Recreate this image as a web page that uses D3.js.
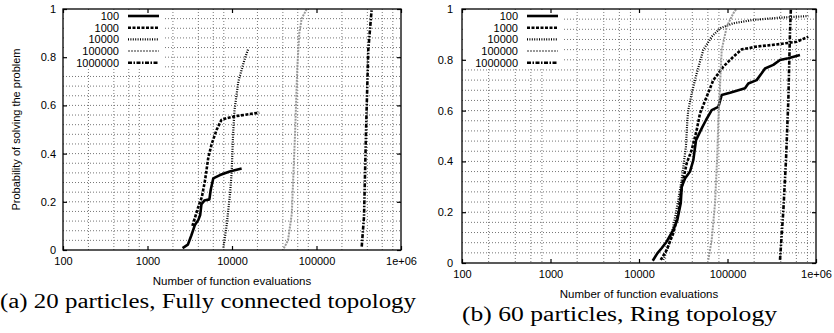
<!DOCTYPE html>
<html>
<head>
<meta charset="utf-8">
<script src="https://cdn.jsdelivr.net/npm/d3@7"></script>
<style>
  body { margin: 0; background: #fff; }
  svg { display: block; }
  .tick text { font-family: "Liberation Sans", Arial, sans-serif; font-size: 11px; fill: #000; }
</style>
</head>
<body>
<div id="chart"></div>
<script>
// tick values / labels shared by both panels
const xTicks = [100, 1000, 10000, 100000, 1000000];
const xTickLabels = ["100", "1000", "10000", "100000", "1e+06"];
const yTicks = [0, 0.2, 0.4, 0.6, 0.8, 1];
const yTickLabels = ["0", "0.2", "0.4", "0.6", "0.8", "1"];
const gridMultipliers = [2, 4, 6, 8];
const gridDecades = [100, 1000, 10000, 100000];
const seriesNames = ["100", "1000", "10000", "100000", "1000000"];

// (a) 20 particles, fully connected: [evaluations, probability]
const a100 = [[2600,0.008],[3000,0.022],[3300,0.06],[3650,0.105],[4000,0.125],[4200,0.145],[4350,0.19],[4700,0.205],[5400,0.21],[5600,0.25],[6000,0.297],[7200,0.311],[9400,0.326],[13000,0.338]];
const a1000 = [[3400,0.1],[4000,0.18],[4400,0.22],[4800,0.29],[5250,0.385],[5750,0.44],[6600,0.5],[7500,0.54],[8600,0.547],[11400,0.556],[21000,0.57]];
const a10000 = [[7900,0.01],[8600,0.097],[9400,0.22],[9900,0.32],[10300,0.48],[10700,0.58],[11900,0.7],[14200,0.795],[15600,0.835]];
const a100000 = [[41000,0.007],[46000,0.04],[51000,0.15],[55700,0.48],[59300,0.76],[62600,0.9],[66800,0.96],[76600,1.0]];
const a1000000 = [[343000,0.014],[365000,0.138],[385000,0.484],[410000,0.83],[450000,1.0]];

// (b) 60 particles, ring
const b100 = [[14300,0.009],[16100,0.038],[18000,0.058],[20500,0.084],[24400,0.13],[27100,0.169],[29600,0.235],[30400,0.3],[33100,0.333],[37700,0.36],[41100,0.405],[44100,0.484],[51100,0.53],[57200,0.563],[66300,0.602],[78800,0.615],[86000,0.661],[106700,0.67],[157700,0.688],[171800,0.707],[213500,0.72],[243200,0.747],[265300,0.766],[329000,0.78],[391500,0.799],[486000,0.806],[659000,0.819]];
const b1000 = [[17600,0.012],[20500,0.051],[24400,0.117],[27800,0.196],[30400,0.3],[34600,0.393],[39400,0.445],[44900,0.524],[48900,0.589],[58200,0.655],[69200,0.72],[89700,0.773],[116300,0.812],[144600,0.841],[213500,0.852],[391000,0.862],[605000,0.871],[818000,0.891]];
const b10000 = [[18800,0.012],[21400,0.064],[24400,0.143],[27800,0.248],[30300,0.327],[33900,0.458],[35200,0.563],[36000,0.6],[39400,0.668],[44900,0.747],[53300,0.839],[66300,0.891],[82300,0.924],[116300,0.944],[196000,0.957],[391000,0.966],[818000,0.972]];
const b100000 = [[60700,0.012],[66300,0.091],[72300,0.235],[76800,0.432],[78800,0.563],[80900,0.642],[86000,0.839],[98000,0.93],[116300,0.983],[126000,1.0]];
const b1000000 = [[392000,0.012],[428000,0.209],[458000,0.405],[487000,0.642],[508000,0.905],[520000,1.0]];

// line styles per series (gnuplot-like)
const styles = [
  { color: "#000", width: 2.6, dash: null },
  { color: "#000", width: 2.6, dash: "3,1.5" },
  { color: "#000", width: 2.2, dash: "1,1.4" },
  { color: "#999", width: 2.0, dash: "2,1" },
  { color: "#000", width: 2.6, dash: "4,1.5,1.5,1.5" }
];

const panels = [
  { id: "a", left: 63, right: 401, top: 9, bottom: 250, yGap: 7, ylabel: true,
    caption: "(a) 20 particles, Fully connected topology", capX: 0, capW: 416,
    series: [a100, a1000, a10000, a100000, a1000000] },
  { id: "b", left: 462, right: 816, top: 9, bottom: 263, yGap: 9, ylabel: false,
    caption: "(b) 60 particles, Ring topology", capX: 462, capW: 315,
    series: [b100, b1000, b10000, b100000, b1000000] }
];

const svg = d3.select("#chart").append("svg")
  .attr("width", 834).attr("height", 333)
  .style("background", "#fff");

panels.forEach(p => {
  const x = d3.scaleLog().domain([100, 1000000]).range([p.left, p.right]);
  const y = d3.scaleLinear().domain([0, 1]).range([p.bottom, p.top]);
  const g = svg.append("g");

  // grid
  const gridX = [];
  gridDecades.forEach(d => gridMultipliers.forEach(m => gridX.push(d * m)));
  const gridY = d3.range(1, 25).map(i => i * 0.04);

  g.append("g").selectAll("line").data(gridX).enter().append("line")
    .attr("x1", d => x(d)).attr("x2", d => x(d))
    .attr("y1", p.top).attr("y2", p.bottom)
    .attr("stroke", "#666").attr("stroke-width", 0.9).attr("stroke-dasharray", "1,2");
  g.append("g").selectAll("line").data(gridY).enter().append("line")
    .attr("x1", p.left).attr("x2", p.right)
    .attr("y1", d => y(d)).attr("y2", d => y(d))
    .attr("stroke", "#666").attr("stroke-width", 0.9).attr("stroke-dasharray", "1,2");

  // legend background covers the grid
  g.append("rect")
    .attr("x", p.left + 1).attr("y", p.top + 1)
    .attr("width", 101).attr("height", 58)
    .attr("fill", "#fff");

  // curves
  const clipId = "clip-" + p.id;
  svg.append("clipPath").attr("id", clipId).append("rect")
    .attr("x", p.left).attr("y", p.top)
    .attr("width", p.right - p.left).attr("height", p.bottom - p.top);

  const line = d3.line().x(d => x(d[0])).y(d => y(d[1]));
  p.series.forEach((s, i) => {
    g.append("path")
      .datum(s)
      .attr("clip-path", `url(#${clipId})`)
      .attr("d", line)
      .attr("fill", "none")
      .attr("stroke", styles[i].color)
      .attr("stroke-width", styles[i].width)
      .attr("stroke-dasharray", styles[i].dash)
      .attr("stroke-linejoin", "round");
  });

  // axes, ticks pointing inward
  const bottomAxis = g.append("g")
    .attr("transform", `translate(0,${p.bottom})`)
    .call(d3.axisBottom(x).tickValues(xTicks).tickFormat((d, i) => xTickLabels[i])
      .tickSizeInner(-4).tickSizeOuter(0).tickPadding(7));
  bottomAxis.select(".domain").remove();

  const topAxis = g.append("g")
    .attr("transform", `translate(0,${p.top})`)
    .call(d3.axisTop(x).tickValues(xTicks).tickFormat("")
      .tickSizeInner(-4).tickSizeOuter(0));
  topAxis.select(".domain").remove();

  const leftAxis = g.append("g")
    .attr("transform", `translate(${p.left},0)`)
    .call(d3.axisLeft(y).tickValues(yTicks).tickFormat((d, i) => yTickLabels[i])
      .tickSizeInner(-4).tickSizeOuter(0).tickPadding(p.yGap));
  leftAxis.select(".domain").remove();

  const rightAxis = g.append("g")
    .attr("transform", `translate(${p.right},0)`)
    .call(d3.axisRight(y).tickValues(yTicks).tickFormat("")
      .tickSizeInner(-4).tickSizeOuter(0));
  rightAxis.select(".domain").remove();

  g.selectAll(".tick line").attr("stroke", "#000").attr("stroke-width", 1.2);

  // border
  g.append("rect")
    .attr("x", p.left).attr("y", p.top)
    .attr("width", p.right - p.left).attr("height", p.bottom - p.top)
    .attr("fill", "none").attr("stroke", "#000").attr("stroke-width", 1.3);

  // legend entries
  const textRight = p.left + 56;
  seriesNames.forEach((name, i) => {
    const ry = 16 + i * 11.7;
    g.append("text")
      .attr("x", textRight).attr("y", ry + 4)
      .attr("text-anchor", "end")
      .style("font-family", "Liberation Sans, Arial, sans-serif")
      .style("font-size", "11px")
      .text(name);
    g.append("line")
      .attr("x1", textRight + 9).attr("x2", textRight + 40)
      .attr("y1", ry).attr("y2", ry)
      .attr("stroke", styles[i].color)
      .attr("stroke-width", styles[i].width)
      .attr("stroke-dasharray", styles[i].dash);
  });

  // axis titles
  g.append("text")
    .attr("x", (p.left + p.right) / 2).attr("y", p.bottom + 35)
    .attr("text-anchor", "middle")
    .style("font-family", "Liberation Sans, Arial, sans-serif")
    .style("font-size", "11.5px")
    .text("Number of function evaluations");

  if (p.ylabel) {
    g.append("text")
      .attr("transform", `translate(20,${(p.top + p.bottom) / 2}) rotate(-90)`)
      .attr("text-anchor", "middle")
      .style("font-family", "Liberation Sans, Arial, sans-serif")
      .style("font-size", "11px")
      .text("Probability of solving the problem");
  }

  // caption below the panel
  g.append("text")
    .attr("x", p.capX).attr("y", p.bottom + 58)
    .attr("textLength", p.capW)
    .attr("lengthAdjust", "spacingAndGlyphs")
    .style("font-family", "Liberation Serif, Times New Roman, serif")
    .style("font-size", "20px")
    .text(p.caption);
});
</script>
</body>
</html>
